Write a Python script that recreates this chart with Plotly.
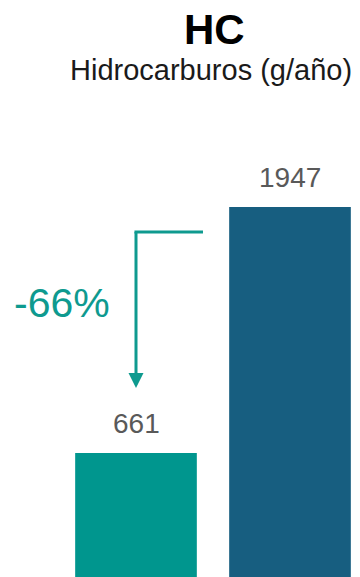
import plotly.graph_objects as go

# Annual hydrocarbon emissions (g/año)
categories = ["Actual", "Referencia"]
values = [661, 1947]
bar_colors = ["#00968E", "#175E80"]
reduction_label = "-66%"

W, H = 360, 577
x_pos = [0, 1]

fig = go.Figure()
fig.add_trace(go.Bar(
    x=x_pos,
    y=values,
    width=0.79,
    marker=dict(color=bar_colors, line=dict(width=0)),
    hoverinfo="skip",
    showlegend=False,
))

# value labels above each bar
for xp, v in zip(x_pos, values):
    fig.add_annotation(
        x=xp, y=v, xref="x", yref="y",
        text=str(v), showarrow=False,
        yanchor="bottom", yshift=12,
        font=dict(family="Liberation Sans, Arial, sans-serif", size=28, color="#595959"),
    )

teal = "#0E9A8F"

# elbow arrow: horizontal segment then down to the smaller bar
fig.add_shape(
    type="line", xref="x", yref="y",
    x0=-0.01, x1=0.435, y0=1816, y1=1816,
    line=dict(color=teal, width=3),
)
fig.add_annotation(
    x=0, y=1000, ax=0, ay=1824,
    xref="x", yref="y", axref="x", ayref="y",
    text="", showarrow=True,
    arrowhead=2, arrowsize=1, arrowwidth=3, arrowcolor=teal,
)

fig.add_annotation(
    x=62 / W, y=1 - 303 / H, xref="paper", yref="paper",
    text=reduction_label, showarrow=False,
    xanchor="center", yanchor="middle",
    font=dict(family="Liberation Sans, Arial, sans-serif", size=41, color=teal),
)

# titles
fig.add_annotation(
    x=214 / W, y=1 - 29 / H, xref="paper", yref="paper",
    text="<b>HC</b>", showarrow=False,
    xanchor="center", yanchor="middle",
    font=dict(family="Liberation Sans, Arial, sans-serif", size=42, color="#000000"),
)
fig.add_annotation(
    x=211 / W, y=1 - 70 / H, xref="paper", yref="paper",
    text="Hidrocarburos (g/año)", showarrow=False,
    xanchor="center", yanchor="middle",
    font=dict(family="Liberation Sans, Arial, sans-serif", size=29, color="#1a1a1a"),
)

fig.update_layout(
    width=W, height=H,
    margin=dict(l=0, r=0, t=0, b=0),
    paper_bgcolor="white",
    plot_bgcolor="white",
    xaxis=dict(range=[-136 / 154, 1 + 70 / 154], visible=False, fixedrange=True),
    yaxis=dict(range=[12.5, 3029], visible=False, fixedrange=True),
)

fig.write_html("out.html")
